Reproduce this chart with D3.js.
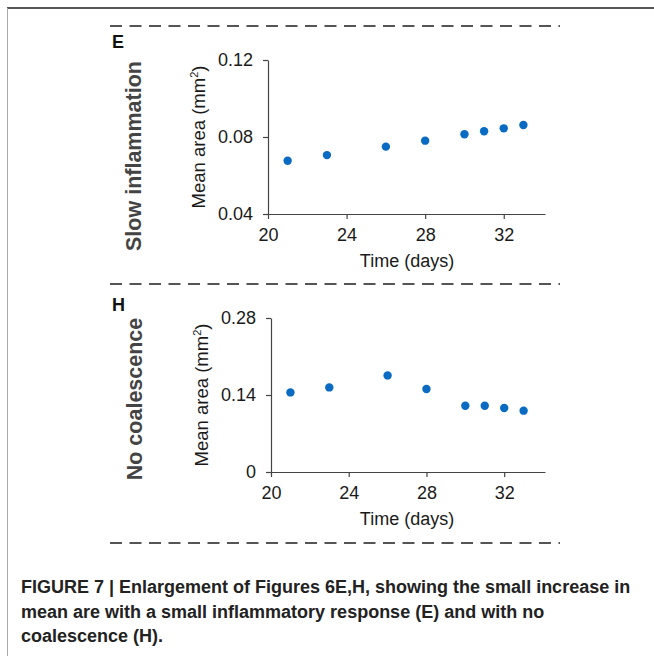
<!DOCTYPE html>
<html>
<head>
<meta charset="utf-8">
<script src="https://cdn.jsdelivr.net/npm/d3@7"></script>
<style>
  body { margin: 0; background: #fff; }
  svg { display: block; font-family: "Liberation Sans", Arial, sans-serif; }
</style>
</head>
<body>
<div id="chart"></div>
<script>
// data
const days = [21, 23, 26, 28, 30, 31, 32, 33];
const slowInflammation = [0.0677, 0.0706, 0.0750, 0.0781, 0.0814, 0.0830, 0.0845, 0.0862];
const noCoalescence = [0.1447, 0.1538, 0.1756, 0.1509, 0.1205, 0.1205, 0.1164, 0.1115];
const xTicks = [20, 24, 28, 32];
const yTicksE = [0.04, 0.08, 0.12];
const yTicksH = [0, 0.14, 0.28];
const captionLines = [
    "FIGURE 7 | Enlargement of Figures 6E,H, showing the small increase in",
    "mean are with a small inflammatory response (E) and with no",
    "coalescence (H)."
];

const width = 654, height = 656;
const svg = d3.select("#chart").append("svg")
    .attr("width", width).attr("height", height);

// page frame
svg.append("line").attr("x1", 7).attr("x2", 654).attr("y1", 8).attr("y2", 8)
    .attr("stroke", "#555").attr("stroke-width", 2);
svg.append("line").attr("x1", 7.5).attr("x2", 7.5).attr("y1", 8).attr("y2", 656)
    .attr("stroke", "#aaa").attr("stroke-width", 1);

// dashed separators
[26, 284, 543].forEach(y => {
    svg.append("line").attr("x1", 110).attr("x2", 560).attr("y1", y).attr("y2", y)
        .attr("stroke", "#555").attr("stroke-width", 2.2)
        .attr("stroke-dasharray", "12,7.5");
});

function drawPanel(opts) {
    const x = d3.scaleLinear().domain([20, 34.1]).range([opts.left, 545]);
    const y = d3.scaleLinear().domain(opts.yDomain).range([opts.bottom, opts.top]);
    const g = svg.append("g");

    const xAxis = g.append("g").attr("transform", `translate(0,${opts.bottom})`)
        .call(d3.axisBottom(x).tickValues(xTicks).tickSize(5).tickPadding(9).tickSizeOuter(0));
    const yAxis = g.append("g").attr("transform", `translate(${opts.left},0)`)
        .call(d3.axisLeft(y).tickValues(opts.yTicks).tickFormat(opts.fmt)
            .tickSize(5).tickPadding(10).tickSizeOuter(0));
    [xAxis, yAxis].forEach(a => {
        a.select(".domain").attr("stroke", "#444").attr("stroke-width", 1.2);
        a.selectAll(".tick line").attr("stroke", "#444").attr("stroke-width", 1.2);
        a.selectAll(".tick text").attr("fill", "#1a1a1a").style("font-size", "18px");
    });

    g.selectAll("circle").data(days).join("circle")
        .attr("cx", d => x(d))
        .attr("cy", (d, i) => y(opts.values[i]))
        .attr("r", 4.2)
        .attr("fill", "#0a6bc2");

    g.append("text").attr("x", 407).attr("y", opts.bottom + 53)
        .attr("text-anchor", "middle").attr("fill", "#1a1a1a")
        .style("font-size", "18px").text("Time (days)");

    const midY = (opts.top + opts.bottom) / 2;
    const yt = g.append("text")
        .attr("transform", `translate(${opts.left - 63},${midY}) rotate(-90)`)
        .attr("text-anchor", "middle").attr("fill", "#1a1a1a")
        .style("font-size", "18.5px");
    yt.append("tspan").text("Mean area (mm");
    yt.append("tspan").attr("dy", -7).style("font-size", "11px").text("2");
    yt.append("tspan").attr("dy", 7).text(")");

    g.append("text")
        .attr("transform", `translate(${opts.rowX},${opts.rowY}) rotate(-90)`)
        .attr("text-anchor", "middle").attr("fill", "#444")
        .style("font-size", "21.5px").style("font-weight", "bold")
        .text(opts.rowLabel);

    g.append("text").attr("x", 112).attr("y", opts.letterY)
        .attr("fill", "#111").style("font-size", "18px").style("font-weight", "bold")
        .text(opts.letter);
}

drawPanel({
    left: 268, top: 60, bottom: 214, yDomain: [0.04, 0.12], yTicks: yTicksE,
    fmt: d3.format(".2f"), values: slowInflammation,
    rowLabel: "Slow inflammation", rowX: 141, rowY: 156, letter: "E", letterY: 48
});
drawPanel({
    left: 271, top: 318, bottom: 472, yDomain: [0, 0.28], yTicks: yTicksH,
    fmt: d => d === 0 ? "0" : d3.format(".2f")(d), values: noCoalescence,
    rowLabel: "No coalescence", rowX: 142, rowY: 399, letter: "H", letterY: 311
});

// caption
svg.append("g").selectAll("text").data(captionLines).join("text")
    .attr("x", 21)
    .attr("y", (d, i) => 593 + i * 24.5)
    .attr("fill", "#222")
    .style("font-size", "18px").style("font-weight", "bold")
    .text(d => d);
</script>
</body>
</html>
